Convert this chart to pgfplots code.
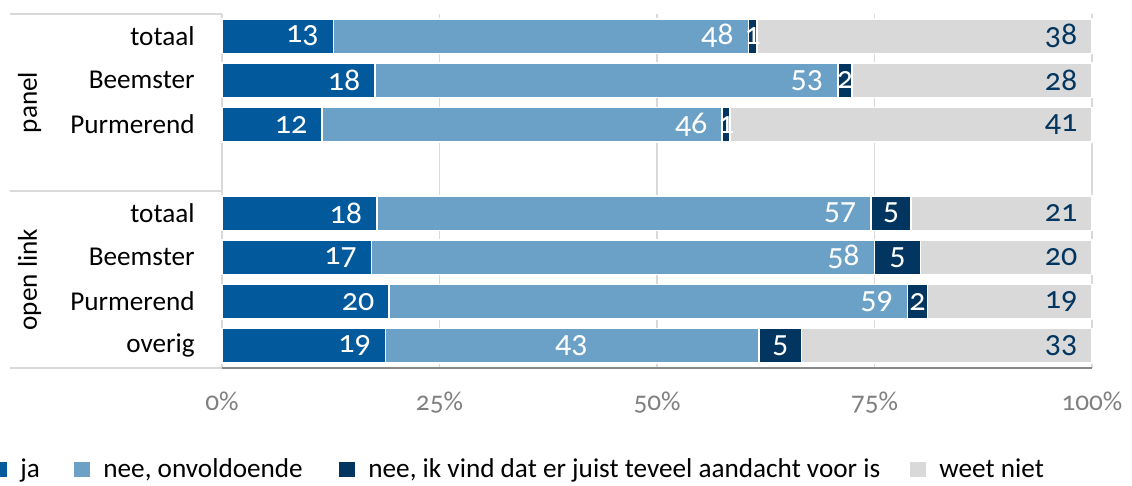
\documentclass[border=0pt]{standalone}
\usepackage{fontspec}
\setmainfont{Carlito}[Numbers=OldStyle]
\usepackage{pgfplots}
\usepackage{pgfplotstable}
\pgfplotsset{compat=1.18}

\definecolor{cja}{RGB}{2,89,156}
\definecolor{cnee}{RGB}{107,161,199}
\definecolor{cteveel}{RGB}{2,54,96}
\definecolor{cweet}{RGB}{217,217,217}
\definecolor{gridgray}{RGB}{217,217,217}
\definecolor{axisgray}{RGB}{137,137,137}
\definecolor{tickgray}{RGB}{128,128,128}

% y: 7 = panel totaal ... 0 = open link overig (4 is the empty gap)
% ctr = 1: label centred in its segment, 0: label at the right end
\pgfplotstableread{
y v lab ctr
7 12.8 13 0
6 17.6 18 0
5 11.5 12 0
3 17.8 18 0
2 17.2 17 0
1 19.2 20 0
0 18.8 19 0
}\tja
\pgfplotstableread{
y v lab ctr
7 47.7 48 0
6 53.2 53 0
5 46.0 46 0
3 56.8 57 0
2 57.8 58 0
1 59.6 59 0
0 42.9 43 1
}\tnee
\pgfplotstableread{
y v lab
7 1.0 1
6 1.6 2
5 0.9 1
3 4.6 5
2 5.3 5
1 2.3 2
0 4.9 5
}\tteveel
\pgfplotstableread{
y v lab ctr
7 38.5 38 0
6 27.6 28 0
5 41.6 41 0
3 20.8 21 0
2 19.7 20 0
1 18.9 19 0
0 33.4 33 0
}\tweet

\begin{document}
\fontsize{13.6pt}{16pt}\selectfont
\begin{tikzpicture}
\begin{axis}[
  name=ax,
  scale only axis,
  width=435pt, height=177pt,
  xmin=0, xmax=100, ymin=-0.5, ymax=7.5,
  xbar stacked,
  bar width=17.3pt,
  clip=false,
  axis line style={draw=none},
  major tick length=0pt,
  xtick={0,25,50,75,100},
  xticklabels={0\%,25\%,50\%,75\%,100\%},
  ytick={0,1,2,3,5,6,7},
  yticklabels={overig,Purmerend,Beemster,totaal,Purmerend,Beemster,totaal},
  xmajorgrids,
  major grid style={draw=gridgray, line width=0.75pt},
  x tick label style={text=tickgray, inner sep=0pt, yshift=-12pt},
  y tick label style={inner sep=0pt, xshift=-13.5pt},
  /pgf/number format/assume math mode=true,
  point meta=explicit symbolic,
  endlabel/.style={
    visualization depends on={\thisrow{v}\as\segw},
    visualization depends on={\thisrow{ctr}\as\ctr},
    nodes near coords,
    every node near coord/.style={text=#1, anchor=east, inner sep=0pt,
      font=\fontsize{16pt}{18pt}\selectfont,
      xshift={(1-\ctr)*(\segw*2.175pt-7pt)+\ctr*8.1pt}}},
  legend columns=4,
  legend style={at={(-0.2655,-0.288)}, anchor=west, draw=none, fill=none,
    inner sep=0pt, nodes={inner sep=0pt},
    /tikz/every odd column/.style={column sep=6.5pt},
    /tikz/every even column/.style={column sep=0pt}},
  legend image code/.code={\fill[#1,draw=none] (0pt,-3.75pt) rectangle (8pt,3.75pt);},
]
\addplot[fill=cja, draw=white, line width=0.8pt, endlabel=white]
  table[x=v, y=y, meta=lab] {\tja};
\addlegendentry{\makebox[27pt][l]{ja}}

\addplot[fill=cnee, draw=white, line width=0.8pt, endlabel=white]
  table[x=v, y=y, meta=lab] {\tnee};
\addlegendentry{\makebox[118pt][l]{nee, onvoldoende}}

\addplot[fill=cteveel, draw=white, line width=0.8pt,
  nodes near coords,
  every node near coord/.style={text=white, anchor=center, inner sep=0pt,
    font=\fontsize{16pt}{18pt}\selectfont}]
  table[x=v, y=y, meta=lab] {\tteveel};
\addlegendentry{\makebox[271pt][l]{nee, ik vind dat er juist teveel aandacht voor is}}

\addplot[fill=cweet, draw=white, line width=0.8pt, endlabel=cteveel]
  table[x=v, y=y, meta=lab] {\tweet};
\addlegendentry{weet niet}

\draw[gridgray, line width=1pt] (axis cs:-24.4,7.5) -- (axis cs:0,7.5);
\draw[gridgray, line width=1pt] (axis cs:-24.4,3.5) -- (axis cs:0,3.5);
\draw[gridgray, line width=1pt] (axis cs:-24.4,-0.5) -- (axis cs:0,-0.5);
\draw[axisgray, line width=1pt] (axis cs:0,-0.5) -- (axis cs:100,-0.5);
\node[rotate=90] at (axis cs:-22.1,5.5) {panel};
\node[rotate=90] at (axis cs:-22.1,1.5) {open link};
\end{axis}
\pgfresetboundingbox
\path ([xshift=-111pt,yshift=-59pt]ax.south west) rectangle ([xshift=20pt,yshift=7pt]ax.north east);
\end{tikzpicture}
\end{document}
